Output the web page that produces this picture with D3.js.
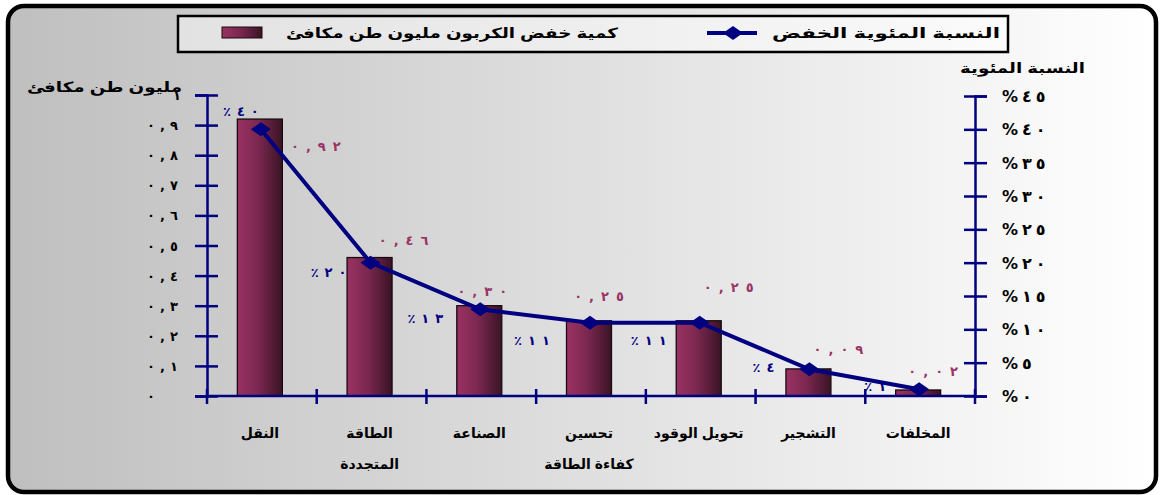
<!DOCTYPE html>
<html><head><meta charset="utf-8">
<script src="https://cdn.jsdelivr.net/npm/d3@7/dist/d3.min.js"></script>
<style>
html,body{margin:0;padding:0;background:#fff;}
svg{display:block;}
text{font-family:"Liberation Sans",Arial,"DejaVu Sans",sans-serif;font-weight:bold;}
</style></head>
<body>
<svg id="chart" width="1160" height="495"></svg>
<script>
// ---- data ----
const categories = ["النقل", "الطاقة المتجددة", "الصناعة", "تحسين كفاءة الطاقة", "تحويل الوقود", "التشجير", "المخلفات"];
const categoryLines = [["النقل"], ["الطاقة", "المتجددة"], ["الصناعة"], ["تحسين", "كفاءة الطاقة"], ["تحويل الوقود"], ["التشجير"], ["المخلفات"]];
const carbonValues = [0.92, 0.46, 0.30, 0.25, 0.25, 0.09, 0.02];
const percentValues = [40, 20, 13, 11, 11, 4, 1];
const leftTicks = [0, 0.1, 0.2, 0.3, 0.4, 0.5, 0.6, 0.7, 0.8, 0.9, 1];
const rightTicks = [0, 5, 10, 15, 20, 25, 30, 35, 40, 45];
const barSeriesName = "كمية خفض الكربون مليون طن مكافئ";
const lineSeriesName = "النسبة المئوية الخفض";
const leftTitle = "مليون طن مكافئ";
const rightTitle = "النسبة المئوية";

// ---- layout (not data) ----
const barLabelOffsets = [[56, 27], [34, -17], [3, -14], [10, -24], [30, -33], [30, -19], [15, -19]];
const pctLabelOffsets = [[-20, -18], [-42, 10], [-55, 9], [-58, 18], [-51, 18], [-46, -2], [-44, -3]];

const arabicDigits = "٠١٢٣٤٥٦٧٨٩";
const toAr = s => String(s).replace(/[0-9]/g, d => arabicDigits[+d]);
const fmtTick = v => v === 0 ? "٠" : (v === 1 ? "١" : toAr(v.toFixed(1)).replace(".", ","));
const fmtVal = v => toAr(v.toFixed(2)).replace(".", ",");

// widen spacing between glyphs (letter-spacing is ignored for Arabic script)
function spread(sel, gap) {
  sel.each(function () {
    const w = this.getComputedTextLength();
    const n = this.textContent.length;
    if (n > 1) {
      this.setAttribute("textLength", w + gap * (n - 1));
      this.setAttribute("lengthAdjust", "spacing");
    }
  });
}

const svg = d3.select("#chart");
const defs = svg.append("defs");
const bg = defs.append("linearGradient").attr("id", "bg").attr("x1", "0").attr("x2", "1").attr("y1", "0").attr("y2", "0");
bg.append("stop").attr("offset", "0%").attr("stop-color", "#bfbfbf");
bg.append("stop").attr("offset", "100%").attr("stop-color", "#ffffff");
const lg = defs.append("linearGradient").attr("id", "lg").attr("x1", "0").attr("x2", "1").attr("y1", "0").attr("y2", "0");
lg.append("stop").attr("offset", "0%").attr("stop-color", "#e2e2e2");
lg.append("stop").attr("offset", "100%").attr("stop-color", "#fbfbfb");
const bar = defs.append("linearGradient").attr("id", "bar").attr("x1", "0").attr("x2", "1").attr("y1", "0").attr("y2", "0");
bar.append("stop").attr("offset", "0%").attr("stop-color", "#9a3263");
bar.append("stop").attr("offset", "45%").attr("stop-color", "#7c2850");
bar.append("stop").attr("offset", "100%").attr("stop-color", "#3a1325");

// frame
svg.append("rect").attr("x", 8).attr("y", 6).attr("width", 1148).attr("height", 486)
  .attr("rx", 16).attr("fill", "url(#bg)").attr("stroke", "#000").attr("stroke-width", 4.5);

// scales
const X0 = 207, X1 = 975, YB = 396;
const x = d3.scaleBand().domain(categories).range([X0, X1]).padding(0);
const yL = d3.scaleLinear().domain([0, 1]).range([YB, 95]);
const yR = d3.scaleLinear().domain([0, 45]).range([YB, 96]);
const bw = x.bandwidth() * 0.41;
const cx = c => x(c) + x.bandwidth() / 2 - 2;

const navy = "#000080";
const numFont = '"DejaVu Sans",sans-serif';

// bars
svg.append("g").selectAll("rect").data(carbonValues).join("rect")
  .attr("x", (d, i) => cx(categories[i]) - bw / 2)
  .attr("y", d => yL(d))
  .attr("width", bw)
  .attr("height", d => YB - yL(d))
  .attr("fill", "url(#bar)").attr("stroke", "#1a0a10").attr("stroke-width", 1.3);

// left axis
const gL = svg.append("g").attr("transform", `translate(${X0},0)`)
  .call(d3.axisLeft(yL).tickValues(leftTicks).tickSize(12).tickFormat(fmtTick));
gL.select(".domain").attr("stroke", navy).attr("stroke-width", 2.5);
gL.selectAll(".tick line").attr("stroke", navy).attr("stroke-width", 2.5).attr("x1", 11).attr("x2", -12);
const lt = gL.selectAll(".tick text").attr("fill", "#000").style("font-size", "13px")
  .style("font-family", numFont).attr("dy", "0.35em")
  .attr("text-anchor", d => d === 1 ? "end" : "start")
  .attr("x", d => d === 1 ? -26 : -60);
spread(lt, 5);

// right axis
const gR = svg.append("g").attr("transform", `translate(${X1},0)`)
  .call(d3.axisRight(yR).tickValues(rightTicks).tickSize(12).tickFormat(v => "%" + toAr(v)));
gR.select(".domain").attr("stroke", navy).attr("stroke-width", 2.5);
gR.selectAll(".tick line").attr("stroke", navy).attr("stroke-width", 2.5).attr("x1", -11).attr("x2", 12);
const rt = gR.selectAll(".tick text").attr("fill", "#000").style("font-size", "16px")
  .style("font-family", numFont).attr("x", 27).attr("dy", "0.35em");
spread(rt, 4);

// bottom axis
const bounds = categories.map(c => x(c)).concat([X1]);
const gB = svg.append("g");
gB.append("line").attr("x1", X0).attr("x2", X1).attr("y1", YB).attr("y2", YB).attr("stroke", navy).attr("stroke-width", 2.5);
gB.selectAll("line.t").data(bounds).join("line").attr("class", "t")
  .attr("x1", d => d).attr("x2", d => d).attr("y1", YB - 7).attr("y2", YB + 8)
  .attr("stroke", navy).attr("stroke-width", 2.5);

// category labels
const catG = svg.append("g");
categoryLines.forEach((lines, i) => {
  lines.forEach((t, j) => {
    catG.append("text").attr("x", cx(categories[i])).attr("y", 438 + j * 31)
      .attr("text-anchor", "middle").style("font-size", "14px").attr("fill", "#000").text(t);
  });
});

// line + markers
const line = d3.line().x((d, i) => cx(categories[i]) + 1).y(d => yR(d));
svg.append("path").datum(percentValues).attr("d", line).attr("fill", "none").attr("stroke", navy).attr("stroke-width", 4);
svg.append("g").selectAll("path").data(percentValues).join("path")
  .attr("transform", (d, i) => `translate(${cx(categories[i]) + 1},${yR(d)})`)
  .attr("d", "M-10,0L0,-7L10,0L0,7Z").attr("fill", navy);

// bar value labels
const bl = svg.append("g").selectAll("text").data(carbonValues).join("text")
  .attr("x", (d, i) => cx(categories[i]) + barLabelOffsets[i][0])
  .attr("y", (d, i) => yL(d) + barLabelOffsets[i][1])
  .attr("dy", "0.35em")
  .attr("text-anchor", "middle").attr("fill", "#993366")
  .style("font-size", "13px").style("font-family", numFont)
  .text(d => fmtVal(d));
spread(bl, 7);

// percent labels
const pl = svg.append("g").selectAll("text").data(percentValues).join("text")
  .attr("x", (d, i) => cx(categories[i]) + 1 + pctLabelOffsets[i][0])
  .attr("y", (d, i) => yR(d) + pctLabelOffsets[i][1])
  .attr("dy", "0.35em")
  .attr("text-anchor", "middle").attr("fill", navy)
  .style("font-size", "13px").style("font-family", numFont)
  .text(d => "٪" + toAr(d));
spread(pl, 6);

// axis titles
svg.append("text").attr("x", 182).attr("y", 92).attr("text-anchor", "end")
  .attr("textLength", 155).attr("lengthAdjust", "spacingAndGlyphs")
  .style("font-size", "14px").attr("fill", "#000").text(leftTitle);
svg.append("text").attr("x", 1085).attr("y", 73).attr("text-anchor", "end")
  .attr("textLength", 125).attr("lengthAdjust", "spacingAndGlyphs")
  .style("font-size", "14px").attr("fill", "#000").text(rightTitle);

// legend
const leg = svg.append("g");
leg.append("rect").attr("x", 178).attr("y", 16).attr("width", 830).attr("height", 36)
  .attr("fill", "url(#lg)").attr("stroke", "#000").attr("stroke-width", 2.5);
leg.append("rect").attr("x", 222).attr("y", 27).attr("width", 40).attr("height", 11)
  .attr("fill", "url(#bar)").attr("stroke", "#1a0a10").attr("stroke-width", 1);
leg.append("text").attr("x", 618).attr("y", 38).attr("text-anchor", "end")
  .attr("textLength", 332).attr("lengthAdjust", "spacingAndGlyphs")
  .style("font-size", "14px").attr("fill", "#000").text(barSeriesName);
leg.append("line").attr("x1", 707).attr("x2", 757).attr("y1", 33).attr("y2", 33).attr("stroke", navy).attr("stroke-width", 4);
leg.append("path").attr("transform", "translate(733,33)").attr("d", "M-10,0L0,-7L10,0L0,7Z").attr("fill", navy);
leg.append("text").attr("x", 1000).attr("y", 38).attr("text-anchor", "end")
  .attr("textLength", 228).attr("lengthAdjust", "spacingAndGlyphs")
  .style("font-size", "14px").attr("fill", "#000").text(lineSeriesName);
</script>
</body></html>
